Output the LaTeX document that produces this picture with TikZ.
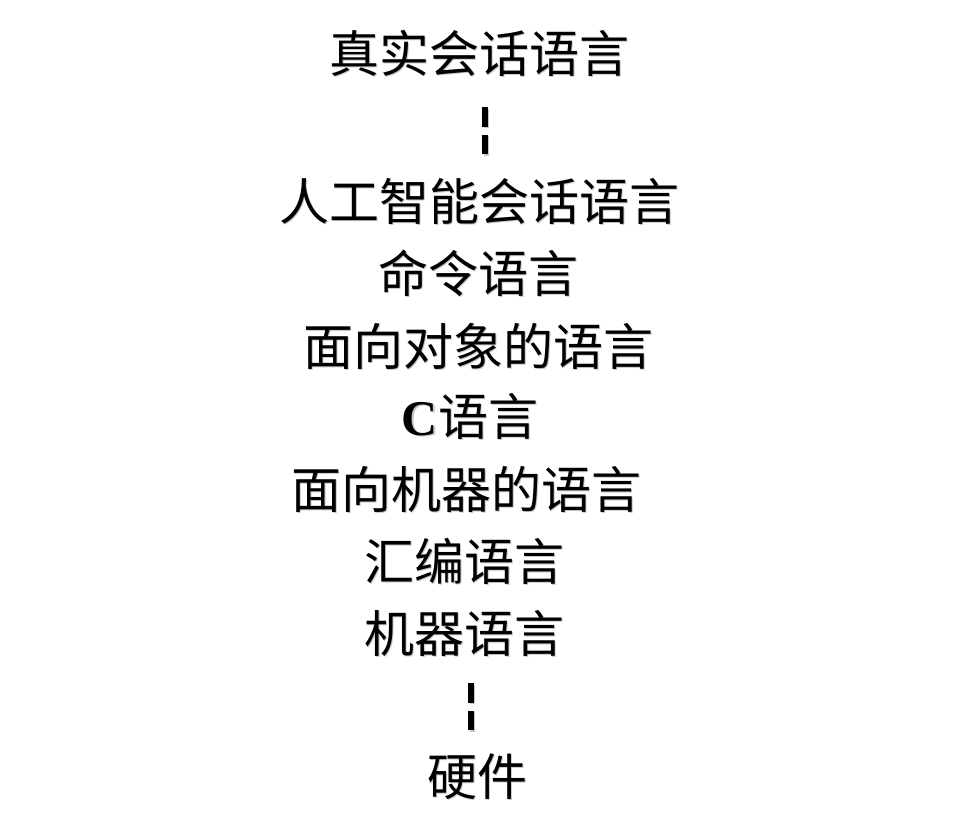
\documentclass[tikz,border=0pt]{standalone}
\usepackage{fontspec}
\newfontfamily\cjk{Noto Sans CJK SC}
\newfontfamily\serifc{Liberation Serif}
\newcommand\shtext[1]{\leavevmode\rlap{\kern1.6pt\raisebox{-1.6pt}{\color{black!22}#1}}#1}
\tikzset{
  lbl/.style={anchor=base, inner sep=0pt, font=\cjk\fontsize{50}{60}\selectfont},
  dashline/.style={line width=5.2pt, dash pattern=on 19.5pt off 8pt, black},
  dashshadow/.style={line width=5.2pt, dash pattern=on 19.5pt off 8pt, black!22}
}
\begin{document}
\begin{tikzpicture}[x=1pt,y=-1pt]
\useasboundingbox (0,0) rectangle (963,836);
\node[lbl] (real) at (479,72) {\shtext{真实会话语言}};
\node[lbl] (ai) at (479,220) {\shtext{人工智能会话语言}};
\node[lbl] (cmd) at (478,292) {\shtext{命令语言}};
\node[lbl] (oo) at (478,365) {\shtext{面向对象的语言}};
\node[lbl] (c) at (470,435) {\shtext{{\serifc\bfseries C}语言}};
\node[lbl] (mo) at (466,508) {\shtext{面向机器的语言}};
\node[lbl] (asm) at (464,580) {\shtext{汇编语言}};
\node[lbl] (mach) at (464,652) {\shtext{机器语言}};
\node[lbl] (hw) at (477,795) {\shtext{硬件}};
\coordinate (d1a) at (485,107);
\coordinate (d1b) at (485,154);
\coordinate (d2a) at (471,683);
\coordinate (d2b) at (471,730);
\draw[dashshadow] ([shift={(1.6,1.6)}]d1a) -- ([shift={(1.6,1.6)}]d1b);
\draw[dashshadow] ([shift={(1.6,1.6)}]d2a) -- ([shift={(1.6,1.6)}]d2b);
\draw[dashline] (d1a) -- (d1b);
\draw[dashline] (d2a) -- (d2b);
\end{tikzpicture}
\end{document}
